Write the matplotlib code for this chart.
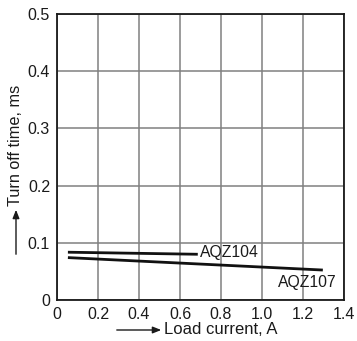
import matplotlib
matplotlib.use("Agg")
import matplotlib.pyplot as plt

plt.rcParams['font.family'] = ['Liberation Sans', 'DejaVu Sans']

x_ticks = [0, 0.2, 0.4, 0.6, 0.8, 1.0, 1.2, 1.4]
x_tick_labels = ["0", "0.2", "0.4", "0.6", "0.8", "1.0", "1.2", "1.4"]
y_ticks = [0, 0.1, 0.2, 0.3, 0.4, 0.5]
y_tick_labels = ["0", "0.1", "0.2", "0.3", "0.4", "0.5"]

aqz104_x = [0.06, 0.68]
aqz104_y = [0.0835, 0.080]
aqz107_x = [0.06, 1.29]
aqz107_y = [0.074, 0.0525]

W, H = 357, 341
fig = plt.figure(figsize=(W / 100, H / 100), dpi=100)
ax = fig.add_axes([57 / W, 1 - 300 / H, (344 - 57) / W, (300 - 14) / H])

ax.set_xlim(0, 1.4)
ax.set_ylim(0, 0.5)
ax.set_xticks(x_ticks)
ax.set_xticklabels(x_tick_labels)
ax.set_yticks(y_ticks)
ax.set_yticklabels(y_tick_labels)
ax.tick_params(length=0, labelsize=11.5, pad=5, colors='#1a1a1a')
ax.grid(True, color='#808080', linewidth=1.1)
ax.set_axisbelow(True)
for s in ax.spines.values():
    s.set_linewidth(1.3)
    s.set_color('#1a1a1a')

ax.plot(aqz104_x, aqz104_y, color='#111111', linewidth=2)
ax.plot(aqz107_x, aqz107_y, color='#111111', linewidth=2)
ax.text(0.695, aqz104_y[1] + 0.003, "AQZ104", fontsize=11.3, va='center', ha='left', color='#1a1a1a')
ax.text(1.366, 0.030, "AQZ107", fontsize=11.3, va='center', ha='right', color='#1a1a1a')

# x label with arrow
fig.text(164 / W, 1 - 330 / H, "Load current, A", fontsize=12, va='center', ha='left', color='#1a1a1a')
fig.add_artist(matplotlib.patches.FancyArrowPatch(
    (114 / W, 1 - 330 / H), (164 / W, 1 - 330 / H), transform=fig.transFigure,
    arrowstyle='-|>,head_length=5,head_width=2', mutation_scale=1, color='#1a1a1a', linewidth=1))

# y label with arrow
fig.text(16 / W, 1 - 206 / H, "Turn off time, ms", fontsize=11.7, rotation=90, va='bottom', ha='center', color='#1a1a1a')
fig.add_artist(matplotlib.patches.FancyArrowPatch(
    (16 / W, 1 - 257 / H), (16 / W, 1 - 207 / H), transform=fig.transFigure,
    arrowstyle='-|>,head_length=5,head_width=2', mutation_scale=1, color='#1a1a1a', linewidth=1))

fig.savefig("out.png", dpi=100)
